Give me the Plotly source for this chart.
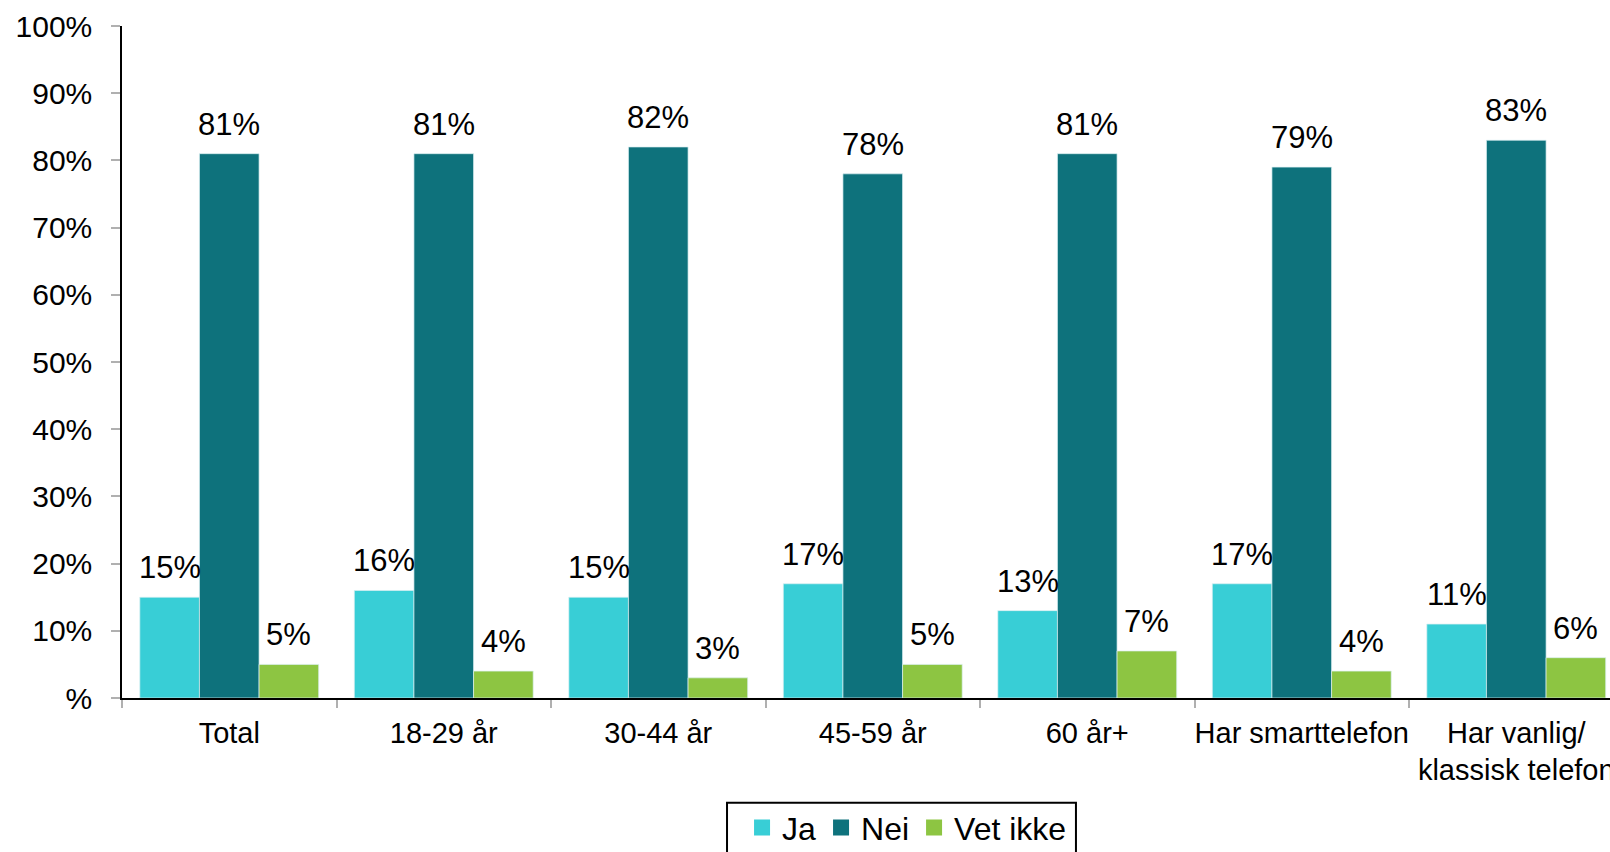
import plotly.graph_objects as go

# Survey answers per group, in percent
categories = ["Total", "18-29 år", "30-44 år", "45-59 år", "60 år+",
              "Har smarttelefon", "Har vanlig/<br>klassisk telefon"]
series_names = ["Ja", "Nei", "Vet ikke"]
ja = [15, 16, 15, 17, 13, 17, 11]
nei = [81, 81, 82, 78, 81, 79, 83]
vet_ikke = [5, 4, 3, 5, 7, 4, 6]
series_values = [ja, nei, vet_ikke]
series_colors = ["#38CED6", "#0E727C", "#8DC542"]

y_tick_values = [0, 10, 20, 30, 40, 50, 60, 70, 80, 90, 100]
y_tick_labels = ["%", "10%", "20%", "30%", "40%", "50%", "60%", "70%", "80%", "90%", "100%"]

FONT = "Liberation Sans, Arial, sans-serif"
BARGAP = 0.166

fig = go.Figure()
for name, vals, color in zip(series_names, series_values, series_colors):
    fig.add_trace(go.Bar(
        name=name, x=categories, y=vals, showlegend=False,
        marker=dict(color=color, line=dict(color="rgba(220,240,242,0.7)", width=1)),
        hoverinfo="skip",
    ))

# Legend entries with larger square swatches
for name, color in zip(series_names, series_colors):
    fig.add_trace(go.Scatter(
        name=name, x=[None], y=[None], mode="markers",
        marker=dict(symbol="square", size=17, color=color),
        showlegend=True, hoverinfo="skip",
    ))

# Value labels above each bar, placed at the bar's slot within its group
slot = (1 - BARGAP) / len(series_names)
annotations = []
for k, vals in enumerate(series_values):
    offset = (k - (len(series_names) - 1) / 2) * slot
    for i, v in enumerate(vals):
        annotations.append(dict(
            x=i + offset, y=v, xref="x", yref="y",
            text=f"{v}%", showarrow=False,
            yanchor="bottom", xanchor="center", yshift=10,
            font=dict(family=FONT, size=31, color="black"),
        ))

# Frame around the legend
legend_box = dict(
    type="rect", xref="paper", yref="paper",
    x0=0.4066, x1=0.6411, y0=-0.156, y1=-0.26,
    line=dict(color="black", width=2), fillcolor="rgba(0,0,0,0)", layer="above",
)

fig.update_layout(
    width=1610, height=852,
    margin=dict(l=122, r=0, t=26, b=154, autoexpand=False),
    paper_bgcolor="white", plot_bgcolor="white",
    barmode="group", bargap=BARGAP, bargroupgap=0,
    font=dict(family=FONT, size=30, color="black"),
    annotations=annotations,
    shapes=[legend_box],
    showlegend=True,
    legend=dict(
        orientation="h", x=0.4167, xanchor="left", y=-0.152, yanchor="top",
        font=dict(family=FONT, size=32, color="black"),
        borderwidth=0, bgcolor="rgba(0,0,0,0)",
    ),
)
fig.update_xaxes(
    type="category", range=[-0.5, 6.437], automargin=False,
    showline=True, linecolor="black", linewidth=1.5,
    ticks="outside", tickson="boundaries", ticklen=8, tickcolor="#b0b0b0", tickwidth=1.5,
    tickangle=0, ticklabelstandoff=8,
    tickfont=dict(family=FONT, size=29, color="black"),
    showgrid=False, zeroline=False,
)
fig.update_yaxes(
    range=[0, 100], automargin=False,
    tickvals=y_tick_values, ticktext=y_tick_labels,
    showline=True, linecolor="black", linewidth=1.5,
    ticks="outside", ticklen=9, tickcolor="#b0b0b0", tickwidth=1.5,
    ticklabelstandoff=13,
    tickfont=dict(family=FONT, size=30, color="black"),
    showgrid=False, zeroline=False,
)

fig.write_html("out.html")
